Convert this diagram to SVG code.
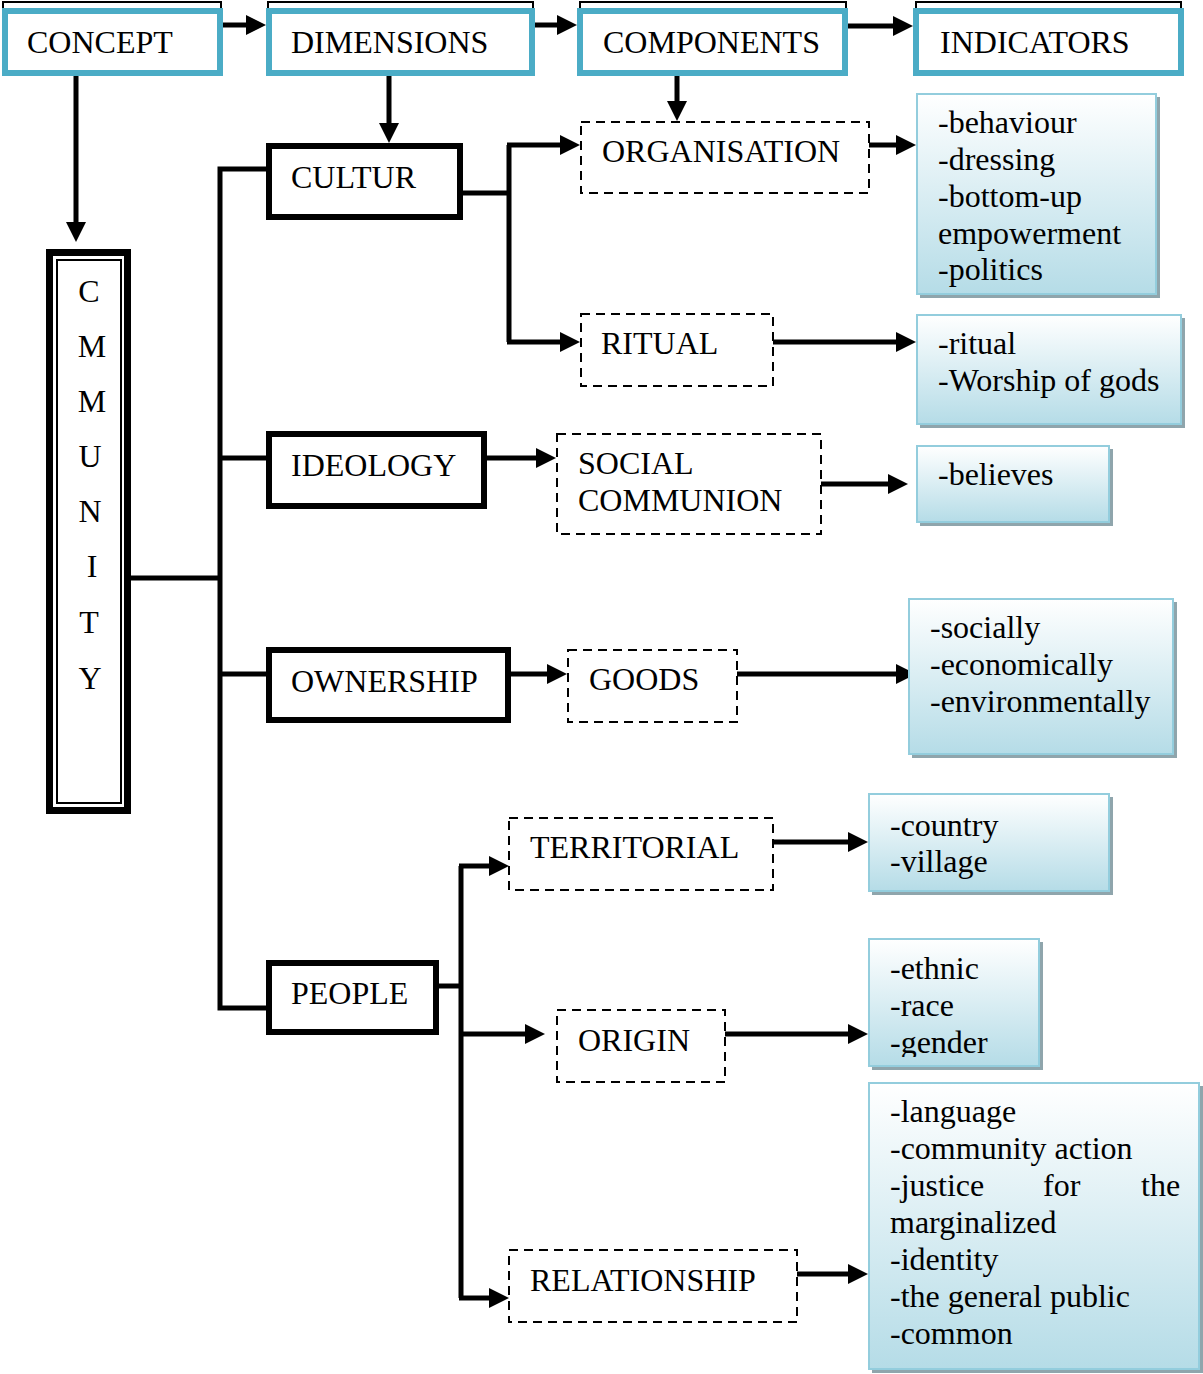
<svg xmlns="http://www.w3.org/2000/svg" width="1203" height="1374" viewBox="0 0 1203 1374">
<style>
text{font-family:"Liberation Serif","Times New Roman",serif;font-size:32px;fill:#000}
.back{fill:#fff;stroke:#000;stroke-width:2}
.head{fill:#fff;stroke:#4bacc6;stroke-width:6}
.solid{fill:#fff;stroke:#000;stroke-width:6}
.dash{fill:#fff;stroke:#000;stroke-width:2;stroke-dasharray:9 6}
.ind{fill:url(#g);stroke:#93cddd;stroke-width:2}
.shd{fill:#8fa5ac}
.c{fill:none;stroke:#000;stroke-width:5}
.a{fill:none;stroke:#000;stroke-width:5;marker-end:url(#ah)}
.mid{text-anchor:middle}
</style>
<defs>
<linearGradient id="g" x1="0" y1="0" x2="0" y2="1">
<stop offset="0" stop-color="#ffffff"/>
<stop offset="1" stop-color="#b5dce7"/>
</linearGradient>
<marker id="ah" markerUnits="userSpaceOnUse" markerWidth="20" markerHeight="20" viewBox="0 0 20 20" refX="2" refY="10" orient="auto">
<path d="M0,0 L20,10 L0,20 z" fill="#000"/>
</marker>
<clipPath id="clipO"><rect x="869" y="939" width="170" height="118"/></clipPath>
</defs>
<rect width="1203" height="1374" fill="#fff"/>

<g id="connectors">
<path class="a" d="M223,25 H248"/>
<path class="a" d="M535,25 H559"/>
<path class="a" d="M848,26 H895"/>
<path class="a" d="M76,76 V224"/>
<path class="a" d="M389,76 V125"/>
<path class="a" d="M677,76 V103"/>
<path class="c" d="M266,169 H220 V1008 H266"/>
<path class="c" d="M131,578 H220"/>
<path class="c" d="M220,458 H266"/>
<path class="c" d="M220,674 H266"/>
<path class="c" d="M463,193 H509"/>
<path class="c" d="M509,145 V342"/>
<path class="a" d="M507,145 H562"/>
<path class="a" d="M507,342 H562"/>
<path class="a" d="M869,145 H898"/>
<path class="a" d="M773,342 H898"/>
<path class="a" d="M487,458 H538"/>
<path class="a" d="M815,484 H890"/>
<path class="a" d="M511,674 H549"/>
<path class="a" d="M737,674 H898"/>
<path class="c" d="M439,986 H461"/>
<path class="c" d="M461,866 V1298"/>
<path class="a" d="M459,866 H491"/>
<path class="a" d="M461,1034 H527"/>
<path class="a" d="M459,1298 H491"/>
<path class="a" d="M773,842 H850"/>
<path class="a" d="M725,1034 H850"/>
<path class="a" d="M797,1274 H850"/>
</g>

<g id="concept">
<rect class="back" x="3" y="2" width="218" height="40"/>
<rect class="head" x="5" y="11" width="215" height="62"/>
<text x="27" y="53">CONCEPT</text>
</g>
<g id="dimensions">
<rect class="back" x="268" y="2" width="265" height="40"/>
<rect class="head" x="269" y="11" width="263" height="62"/>
<text x="291" y="53">DIMENSIONS</text>
</g>
<g id="components">
<rect class="back" x="580" y="2" width="266" height="40"/>
<rect class="head" x="580" y="11" width="265" height="62"/>
<text x="603" y="53">COMPONENTS</text>
</g>
<g id="indicators">
<rect class="back" x="916" y="2" width="265" height="40"/>
<rect class="head" x="916" y="11" width="265" height="62"/>
<text x="940" y="53">INDICATORS</text>
</g>

<g id="community">
<rect x="49.5" y="252.5" width="78" height="558" fill="#fff" stroke="#000" stroke-width="7"/>
<rect x="57" y="260" width="64" height="543" fill="none" stroke="#000" stroke-width="2"/>
<text class="mid" x="89" y="302">C</text>
<text class="mid" x="92" y="357">M</text>
<text class="mid" x="92" y="412">M</text>
<text class="mid" x="90" y="467">U</text>
<text class="mid" x="90" y="522">N</text>
<text class="mid" x="92" y="577">I</text>
<text class="mid" x="89" y="633">T</text>
<text class="mid" x="90" y="689">Y</text>
</g>

<g id="cultur">
<rect class="solid" x="269" y="146" width="191" height="71"/>
<text x="291" y="188">CULTUR</text>
</g>
<g id="ideology">
<rect class="solid" x="269" y="434" width="215" height="72"/>
<text x="291" y="476">IDEOLOGY</text>
</g>
<g id="ownership">
<rect class="solid" x="269" y="650" width="239" height="70"/>
<text x="291" y="692">OWNERSHIP</text>
</g>
<g id="people">
<rect class="solid" x="269" y="963" width="167" height="69"/>
<text x="291" y="1004">PEOPLE</text>
</g>

<g id="organisation">
<rect class="dash" x="581" y="122" width="288" height="71"/>
<text x="602" y="162">ORGANISATION</text>
</g>
<g id="ritual">
<rect class="dash" x="581" y="314" width="192" height="72"/>
<text x="601" y="354">RITUAL</text>
</g>
<g id="social-communion">
<rect class="dash" x="557" y="434" width="264" height="100"/>
<text x="578" y="474">SOCIAL</text>
<text x="578" y="511">COMMUNION</text>
</g>
<g id="goods">
<rect class="dash" x="568" y="650" width="169" height="72"/>
<text x="589" y="690">GOODS</text>
</g>
<g id="territorial">
<rect class="dash" x="509" y="818" width="264" height="72"/>
<text x="530" y="858">TERRITORIAL</text>
</g>
<g id="origin">
<rect class="dash" x="557" y="1010" width="168" height="72"/>
<text x="578" y="1051">ORIGIN</text>
</g>
<g id="relationship">
<rect class="dash" x="509" y="1250" width="288" height="72"/>
<text x="530" y="1291">RELATIONSHIP</text>
</g>

<g id="ind-organisation">
<rect class="shd" x="920" y="97" width="240" height="201"/>
<rect class="ind" x="917" y="94" width="239" height="200"/>
<text x="938" y="133">-behaviour</text>
<text x="938" y="170">-dressing</text>
<text x="938" y="207">-bottom-up</text>
<text x="938" y="244">empowerment</text>
<text x="938" y="280">-politics</text>
</g>
<g id="ind-ritual">
<rect class="shd" x="920" y="318" width="265" height="110"/>
<rect class="ind" x="917" y="315" width="264" height="109"/>
<text x="938" y="354">-ritual</text>
<text x="938" y="391">-Worship of gods</text>
</g>
<g id="ind-social">
<rect class="shd" x="920" y="449" width="193" height="77"/>
<rect class="ind" x="917" y="446" width="192" height="76"/>
<text x="938" y="485">-believes</text>
</g>
<g id="ind-goods">
<rect class="shd" x="912" y="602" width="265" height="156"/>
<rect class="ind" x="909" y="599" width="264" height="155"/>
<text x="930" y="638">-socially</text>
<text x="930" y="675">-economically</text>
<text x="930" y="712">-environmentally</text>
</g>
<g id="ind-territorial">
<rect class="shd" x="872" y="797" width="241" height="98"/>
<rect class="ind" x="869" y="794" width="240" height="97"/>
<text x="890" y="836">-country</text>
<text x="890" y="872">-village</text>
</g>
<g id="ind-origin">
<rect class="shd" x="872" y="942" width="171" height="128"/>
<rect class="ind" x="869" y="939" width="170" height="127"/>
<g clip-path="url(#clipO)">
<text x="890" y="979">-ethnic</text>
<text x="890" y="1016">-race</text>
<text x="890" y="1053">-gender</text>
</g>
</g>
<g id="ind-relationship">
<rect class="shd" x="872" y="1086" width="331" height="287"/>
<rect class="ind" x="869" y="1083" width="330" height="286"/>
<text x="890" y="1122">-language</text>
<text x="890" y="1159">-community action</text>
<text x="890" y="1196">-justice</text>
<text x="1043" y="1196">for</text>
<text x="1141" y="1196">the</text>
<text x="890" y="1233">marginalized</text>
<text x="890" y="1270">-identity</text>
<text x="890" y="1307">-the general public</text>
<text x="890" y="1344">-common</text>
</g>
</svg>
